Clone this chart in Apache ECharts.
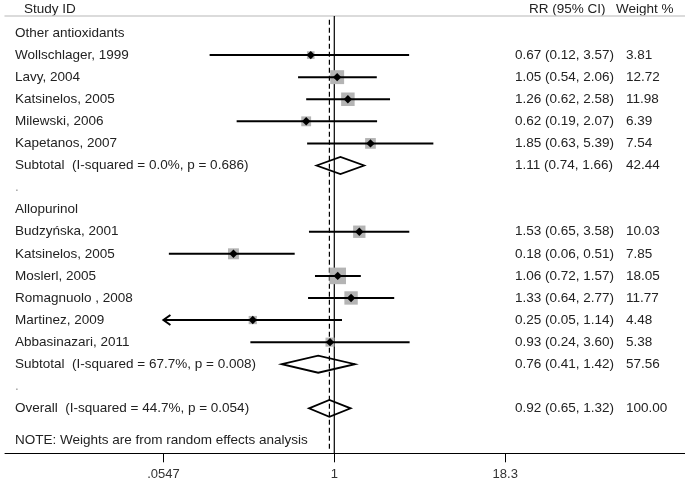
<!DOCTYPE html>
<html><head><meta charset="utf-8">
<script src="https://cdn.jsdelivr.net/npm/echarts@6/dist/echarts.min.js"></script>
<style>html,body{margin:0;padding:0;background:#fff}#c{width:685px;height:500px}</style>
</head><body><div id="c"></div>
<script>
// ---- data ----
const rowLabels = [
  'Other antioxidants', 'Wollschlager, 1999', 'Lavy, 2004', 'Katsinelos, 2005', 'Milewski, 2006', 'Kapetanos, 2007',
  'Subtotal  (I-squared = 0.0%, p = 0.686)', '.', 'Allopurinol', 'Budzyńska, 2001', 'Katsinelos, 2005', 'Moslerl, 2005',
  'Romagnuolo , 2008', 'Martinez, 2009', 'Abbasinazari, 2011', 'Subtotal  (I-squared = 67.7%, p = 0.008)', '.',
  'Overall  (I-squared = 44.7%, p = 0.054)'
];
const rowKinds = ['group','study','study','study','study','study','pooled','blank','group','study','study','study','study','study','study','pooled','blank','pooled'];
const rrValues = [null,0.67,1.05,1.26,0.62,1.85,1.11,null,null,1.53,0.18,1.06,1.33,0.25,0.93,0.76,null,0.92];
const ciLower  = [null,0.12,0.54,0.62,0.19,0.63,0.74,null,null,0.65,0.06,0.72,0.64,0.05,0.24,0.41,null,0.65];
const ciUpper  = [null,3.57,2.06,2.58,2.07,5.39,1.66,null,null,3.58,0.51,1.57,2.77,1.14,3.60,1.42,null,1.32];
const weights  = [null,3.81,12.72,11.98,6.39,7.54,42.44,null,null,10.03,7.85,18.05,11.77,4.48,5.38,57.56,null,100.00];
const tickValues = [0.0547, 1, 18.3];
const tickLabels = ['.0547', '1', '18.3'];
const overallRR = 0.92;
const nullRR = 1;
const headers = ['Study ID', 'RR (95% CI)', 'Weight %'];
const noteText = 'NOTE: Weights are from random effects analysis';

// ---- layout / style ----
const FONT = "'Liberation Sans', Arial, sans-serif";
const FS = 13.5;
const TXT = '#222';
const Y_MIN = -0.77, Y_MAX = 19.035;
const lnTicks = tickValues.map(v => Math.log(v));
const clipMin = lnTicks[0], clipMax = lnTicks[lnTicks.length - 1];

const studyData = [], pooledData = [], statData = [];
rowKinds.forEach((k, i) => {
  if (k === 'study') studyData.push([Math.log(rrValues[i]), Math.log(ciLower[i]), Math.log(ciUpper[i]), i, weights[i]]);
  if (k === 'pooled') pooledData.push([Math.log(rrValues[i]), Math.log(ciLower[i]), Math.log(ciUpper[i]), i, weights[i]]);
  if (rrValues[i] != null) statData.push([0, i]);
});

function textEl(x, y, text, color, align) {
  return { type: 'text', x: x, y: y, style: { text: text, fill: color || TXT, fontSize: FS, fontFamily: FONT, align: align || 'left', verticalAlign: 'middle' } };
}

function renderStudy(params, api) {
  const est = api.value(0), lo = api.value(1), hi = api.value(2), row = api.value(3), w = api.value(4);
  const pc = api.coord([est, row]);
  const pl = api.coord([Math.max(lo, clipMin), row]);
  const ph = api.coord([Math.min(hi, clipMax), row]);
  const side = 3.9 * Math.sqrt(w);
  const d = 4.2;
  const children = [
    { type: 'rect', shape: { x: pc[0] - side / 2, y: pc[1] - side / 2, width: side, height: side }, style: { fill: '#b4b4b4' } },
    { type: 'line', shape: { x1: pl[0], y1: pl[1], x2: ph[0], y2: ph[1] }, style: { stroke: '#000', lineWidth: 2 } },
    { type: 'polygon', shape: { points: [[pc[0] - d, pc[1]], [pc[0], pc[1] - d], [pc[0] + d, pc[1]], [pc[0], pc[1] + d]] }, style: { fill: '#000' } }
  ];
  if (lo < clipMin) children.push({ type: 'polyline', shape: { points: [[pl[0] + 7, pl[1] - 5], [pl[0], pl[1]], [pl[0] + 7, pl[1] + 5]] }, style: { stroke: '#000', lineWidth: 2, fill: null } });
  if (hi > clipMax) children.push({ type: 'polyline', shape: { points: [[ph[0] - 7, ph[1] - 5], [ph[0], ph[1]], [ph[0] - 7, ph[1] + 5]] }, style: { stroke: '#000', lineWidth: 2, fill: null } });
  return { type: 'group', children: children };
}

function renderPooled(params, api) {
  const est = api.value(0), lo = api.value(1), hi = api.value(2), row = api.value(3);
  const pc = api.coord([est, row]), pl = api.coord([lo, row]), ph = api.coord([hi, row]);
  const h = 8.5;
  return { type: 'polygon', shape: { points: [[pl[0], pl[1]], [pc[0], pc[1] - h], [ph[0], ph[1]], [pc[0], pc[1] + h]] },
           style: { fill: null, stroke: '#000', lineWidth: 1.8 } };
}

function renderVLine(params, api) {
  const x = api.value(0), dashed = api.value(1) === 1;
  const top = api.coord([x, dashed ? -0.6 : Y_MIN]), bot = api.coord([x, dashed ? 18.85 : Y_MAX]);
  return { type: 'line', shape: { x1: top[0], y1: top[1], x2: bot[0], y2: bot[1] },
           style: { stroke: '#000', lineWidth: 1.2, lineDash: dashed ? [5, 3] : null } };
}

function renderLeftText(params, api) {
  const row = api.value(1);
  const p = api.coord([0, row]);
  const isDot = rowKinds[row] === 'blank';
  return textEl(15, p[1], rowLabels[row], isDot ? '#999' : TXT);
}

function renderStats(params, api) {
  const row = api.value(1);
  const p = api.coord([0, row]);
  const s = rrValues[row].toFixed(2) + ' (' + ciLower[row].toFixed(2) + ', ' + ciUpper[row].toFixed(2) + ')';
  return { type: 'group', children: [textEl(515, p[1], s), textEl(626, p[1], weights[row].toFixed(2))] };
}

const chart = echarts.init(document.getElementById('c'), null, { renderer: 'canvas' });
chart.setOption({
  animation: false,
  backgroundColor: '#fff',
  grid: { left: 5, right: 0, top: 16, bottom: 46.7 },
  xAxis: [
    {
      type: 'value', min: -5.600, max: 5.964, position: 'bottom',
      axisLine: { show: true, onZero: false, lineStyle: { color: '#000', width: 1 } },
      axisTick: { show: true, length: 9, customValues: lnTicks, lineStyle: { color: '#000', width: 1 } },
      axisLabel: { customValues: lnTicks, margin: 15, color: '#333', fontSize: 13, fontFamily: FONT,
        formatter: v => { const i = lnTicks.findIndex(t => Math.abs(t - v) < 1e-6); return i >= 0 ? tickLabels[i] : ''; } },
      splitLine: { show: false }
    },
    {
      type: 'value', min: -5.600, max: 5.964, position: 'top',
      axisLine: { show: true, onZero: false, lineStyle: { color: '#cfcfcf', width: 1.5 } },
      axisTick: { show: false }, axisLabel: { show: false }, splitLine: { show: false }
    }
  ],
  yAxis: { type: 'value', min: Y_MIN, max: Y_MAX, inverse: true, show: false, splitLine: { show: false } },
  graphic: [
    { type: 'text', left: 24, top: 2, style: { text: headers[0], fill: TXT, fontSize: FS, fontFamily: FONT } },
    { type: 'text', left: 529, top: 2, style: { text: headers[1], fill: TXT, fontSize: FS, fontFamily: FONT } },
    { type: 'text', left: 616, top: 2, style: { text: headers[2], fill: TXT, fontSize: FS, fontFamily: FONT } },
    { type: 'text', left: 15, top: 433, style: { text: noteText, fill: TXT, fontSize: FS, fontFamily: FONT } }
  ],
  series: [
    { type: 'custom', name: 'lines', renderItem: renderVLine, data: [[Math.log(nullRR), 0], [Math.log(overallRR), 1]], clip: false, silent: true },
    { type: 'custom', name: 'studies', renderItem: renderStudy, data: studyData, clip: false, silent: true },
    { type: 'custom', name: 'pooled', renderItem: renderPooled, data: pooledData, clip: false, silent: true },
    { type: 'custom', name: 'labels', renderItem: renderLeftText, data: rowLabels.map((t, i) => [0, i]), clip: false, silent: true },
    { type: 'custom', name: 'stats', renderItem: renderStats, data: statData, clip: false, silent: true }
  ]
});
</script>
</body></html>
